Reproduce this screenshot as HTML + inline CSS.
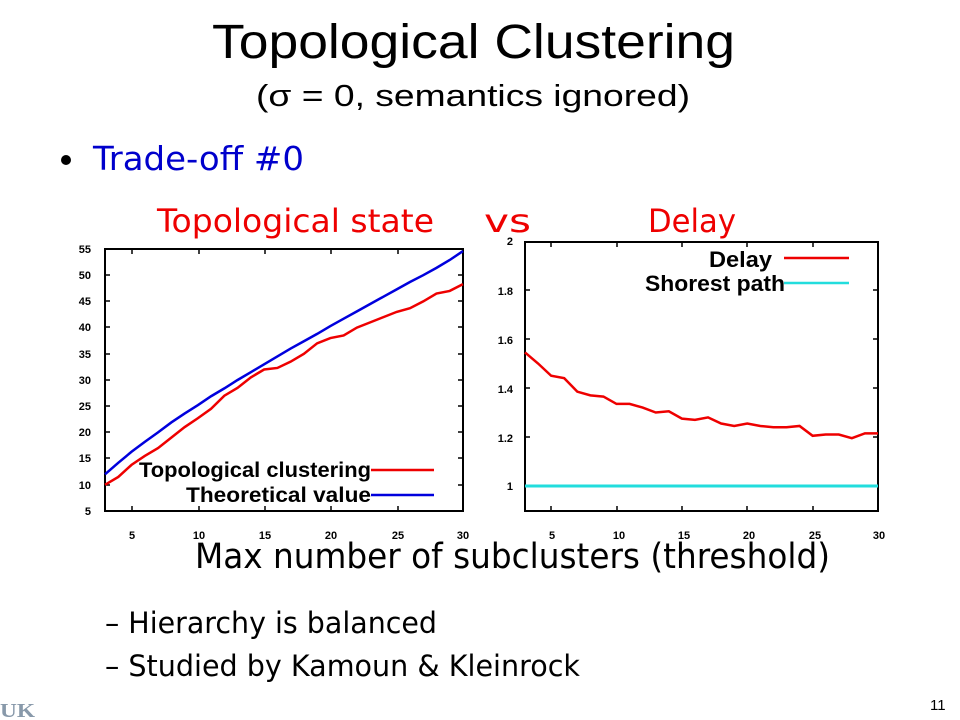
<!DOCTYPE html>
<html><head><style>body{margin:0;background:#fff}svg{display:block}</style></head><body>
<svg width="960" height="720" viewBox="0 0 960 720" xmlns="http://www.w3.org/2000/svg" font-family="Liberation Sans, sans-serif">
<text x="212" y="58" font-size="48" textLength="523" lengthAdjust="spacingAndGlyphs">Topological Clustering</text>
<text x="256" y="106" font-size="31" textLength="434" lengthAdjust="spacingAndGlyphs">(σ = 0, semantics ignored)</text>
<circle cx="66" cy="160" r="5" fill="#000"/>
<text x="93" y="170" font-size="33" fill="#0000cc" font-family="DejaVu Sans, sans-serif" textLength="211" lengthAdjust="spacingAndGlyphs">Trade-off #0</text>
<g fill="#ee0000" font-family="DejaVu Sans, sans-serif" font-size="32">
<text x="157" y="232" textLength="277" lengthAdjust="spacingAndGlyphs">Topological state</text>
<text x="484" y="232" textLength="47" lengthAdjust="spacingAndGlyphs">vs</text>
<text x="648" y="232" textLength="88" lengthAdjust="spacingAndGlyphs">Delay</text>
</g>
<!-- left chart -->
<rect x="105" y="249" width="358" height="262" fill="none" stroke="#000" stroke-width="2"/>
<g stroke="#000" stroke-width="1.5">
<path d="M132,511v-5M132,249v5M199,511v-5M199,249v5M265,511v-5M265,249v5M331,511v-5M331,249v5M398,511v-5M398,249v5"/>
<path d="M105,275h5M463,275h-5M105,301h5M463,301h-5M105,327h5M463,327h-5M105,354h5M463,354h-5M105,380h5M463,380h-5M105,406h5M463,406h-5M105,432h5M463,432h-5M105,458h5M463,458h-5M105,485h5M463,485h-5"/>
<path d="M551,511v-5M551,242v5M617,511v-5M617,242v5M682,511v-5M682,242v5M747,511v-5M747,242v5M813,511v-5M813,242v5"/>
<path d="M525,290h5M878,290h-5M525,339h5M878,339h-5M525,388h5M878,388h-5M525,437h5M878,437h-5M525,486h5M878,486h-5"/>
</g>
<g font-size="11" font-weight="bold" text-anchor="end">
<text x="91" y="253">55</text><text x="91" y="279">50</text><text x="91" y="305">45</text><text x="91" y="331">40</text><text x="91" y="358">35</text><text x="91" y="384">30</text><text x="91" y="410">25</text><text x="91" y="436">20</text><text x="91" y="462">15</text><text x="91" y="489">10</text><text x="91" y="515">5</text>
</g>
<g font-size="11" font-weight="bold" text-anchor="middle">
<text x="132" y="539">5</text><text x="199" y="539">10</text><text x="265" y="539">15</text><text x="331" y="539">20</text><text x="398" y="539">25</text><text x="463" y="539">30</text>
<text x="552" y="539">5</text><text x="619" y="539">10</text><text x="684" y="539">15</text><text x="749" y="539">20</text><text x="815" y="539">25</text><text x="879" y="539">30</text>
</g>
<g transform="matrix(13.259,0,0,-5.24,65.22,537.2)" fill="none">
<polyline vector-effect="non-scaling-stroke" stroke="#0000dd" stroke-width="2.5" fill="none" points="3,12 4,14.2 5,16.3 6,18.2 7,20 8,21.9 9,23.6 10,25.2 11,26.9 12,28.4 13,30 14,31.5 15,33 16,34.5 17,36 18,37.4 19,38.8 20,40.3 21,41.7 22,43.1 23,44.5 24,45.9 25,47.3 26,48.7 27,50 28,51.4 29,52.9 30,54.6"/>
<polyline vector-effect="non-scaling-stroke" stroke="#ee0000" stroke-width="2.5" fill="none" points="3,10 4,11.5 5,13.8 6,15.5 7,17 8,19 9,21 10,22.7 11,24.5 12,27 13,28.5 14,30.5 15,32 16,32.3 17,33.5 18,35 19,37 20,38 21,38.5 22,40 23,41 24,42 25,43 26,43.7 27,45 28,46.5 29,47 30,48.3"/>
</g>
<g font-size="21" font-weight="bold" text-anchor="end">
<text x="371" y="477" textLength="232" lengthAdjust="spacingAndGlyphs">Topological clustering</text>
<text x="371" y="502" textLength="185" lengthAdjust="spacingAndGlyphs">Theoretical value</text>
</g>
<line x1="371" y1="470" x2="434" y2="470" stroke="#ee0000" stroke-width="2.5"/>
<line x1="371" y1="495" x2="434" y2="495" stroke="#0000dd" stroke-width="2.5"/>
<!-- right chart -->
<rect x="525" y="242" width="353" height="269" fill="none" stroke="#000" stroke-width="2"/>
<g font-size="11" font-weight="bold" text-anchor="end">
<text x="513" y="245">2</text><text x="513" y="295">1.8</text><text x="513" y="344">1.6</text><text x="513" y="393">1.4</text><text x="513" y="442">1.2</text><text x="513" y="490">1</text>
</g>
<line x1="525" y1="486" x2="878" y2="486" stroke="#22dddd" stroke-width="3"/>
<polyline stroke="#ee0000" stroke-width="2.5" fill="none" vector-effect="non-scaling-stroke" transform="matrix(13.074,0,0,-245,485.78,731)" points="3,1.545 4,1.5 5,1.45 6,1.44 7,1.385 8,1.37 9,1.365 10,1.335 11,1.335 12,1.32 13,1.3 14,1.305 15,1.275 16,1.27 17,1.28 18,1.255 19,1.245 20,1.255 21,1.245 22,1.24 23,1.24 24,1.245 25,1.205 26,1.21 27,1.21 28,1.195 29,1.215 30,1.215"/>
<g font-size="22" font-weight="bold" text-anchor="end">
<text x="772" y="267" textLength="63" lengthAdjust="spacingAndGlyphs">Delay</text>
<text x="785" y="291" textLength="140" lengthAdjust="spacingAndGlyphs">Shorest path</text>
</g>
<line x1="784" y1="258" x2="849" y2="258" stroke="#ee0000" stroke-width="2.5"/>
<line x1="784" y1="283" x2="849" y2="283" stroke="#22dddd" stroke-width="2.5"/>
<text x="195" y="568" font-size="35" font-family="DejaVu Sans, sans-serif" textLength="635" lengthAdjust="spacingAndGlyphs">Max number of subclusters (threshold)</text>
<g font-size="29" font-family="DejaVu Sans, sans-serif">
<text x="105" y="633" textLength="332" lengthAdjust="spacingAndGlyphs">– Hierarchy is balanced</text>
<text x="105" y="676" textLength="475" lengthAdjust="spacingAndGlyphs">– Studied by Kamoun &amp; Kleinrock</text>
</g>
<text x="930" y="710" font-size="15">11</text>
<text x="0" y="717" font-size="20" font-weight="bold" font-family="Liberation Serif, serif" fill="#8899aa" textLength="35" lengthAdjust="spacingAndGlyphs">UK</text>
</svg>
</body></html>
